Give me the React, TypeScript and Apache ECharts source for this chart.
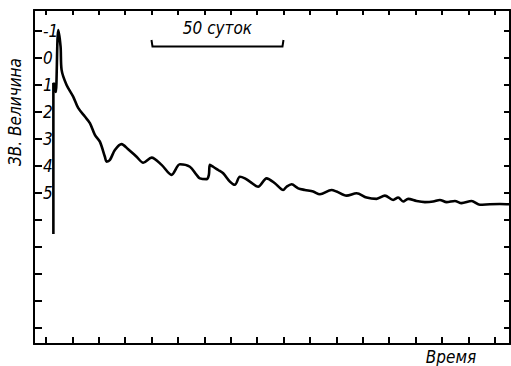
import React, { useEffect, useRef } from "react";
import * as echarts from "echarts";

// Days since outburst (arbitrary zero at first tick) and stellar magnitude
const days = [
  2.84, 2.84, 3.41, 3.79, 4.66, 5.57, 5.95, 7.84, 10.34, 12.23, 14.77, 16.67, 18.56,
  20.45, 22.35, 22.99, 24.24, 26.14, 28.67, 31.06, 34.36, 36.86, 40.04, 43.83, 47.61,
  50.76, 54.55, 57.08, 58.33, 60.87, 61.74, 62.12, 63.37, 65.27, 67.16, 69.7, 71.59,
  73.48, 75.38, 77.27, 80.42, 83.6, 86.74, 89.89, 91.17, 93.07, 95.57, 98.11, 101.25,
  103.79, 108.22, 110.11, 113.9, 117.69, 121.48, 125.27, 128.41, 131.55, 133.45, 135.34,
  137.23, 140.42, 143.56, 146.7, 149.24, 151.78, 154.92, 157.46, 161.25, 164.39, 168.18,
  171.97, 175.76,
];
const mags = [
  6.52, 0.93, 1.0, 1.26, -1.04, -0.42, 0.44, 1.0, 1.43, 1.85, 2.17, 2.41, 2.85,
  3.1, 3.66, 3.84, 3.78, 3.41, 3.19, 3.37, 3.66, 3.88, 3.69, 3.96, 4.33,
  3.94, 4.03, 4.33, 4.46, 4.49, 4.33, 3.96, 4.03, 4.15, 4.27, 4.58, 4.7,
  4.4, 4.46, 4.58, 4.77, 4.46, 4.64, 4.89, 4.77, 4.68, 4.83, 4.89, 4.95,
  5.05, 4.89, 4.95, 5.1, 5.01, 5.17, 5.22, 5.1, 5.26, 5.17, 5.32,
  5.22, 5.3, 5.34, 5.32, 5.26, 5.34, 5.3, 5.38, 5.3, 5.44, 5.42,
  5.41, 5.42,
];
const dayTicks = [0, 10, 20, 30, 40, 50, 60, 70, 80, 90, 100, 110, 120, 130, 140, 150, 160, 170];
const magTicks = [-1, 0, 1, 2, 3, 4, 5, 6, 7, 8, 9, 10];
const magLabels = [-1, 0, 1, 2, 3, 4, 5];
const scaleStart = 40;
const scaleEnd = 90;
const scaleText = "50 суток";
const xName = "Время";
const yName = "ЗВ. Величина";

const FONT = "'Liberation Sans Narrow', 'DejaVu Sans Condensed', 'Noto Sans', sans-serif";

export default function App() {
  const ref = useRef<HTMLDivElement>(null);
  useEffect(() => {
    if (!ref.current) return;
    const chart = echarts.init(ref.current, null, { renderer: "svg" });
    const axisLine = { show: true, onZero: false, lineStyle: { color: "#000", width: 2 } };
    const tickStyle = { color: "#000", width: 2 };
    const xBase = {
      type: "value" as const,
      min: -4.5,
      max: 175.8,
      axisLine,
      axisLabel: { show: false },
      splitLine: { show: false },
    };
    const yBase = {
      type: "value" as const,
      inverse: true,
      min: -1.78,
      max: 10.6,
      axisLine,
      splitLine: { show: false },
    };
    chart.setOption({
      animation: false,
      backgroundColor: "#fff",
      grid: { left: 34, right: 1, top: 10, bottom: 22 },
      xAxis: [
        {
          ...xBase,
          position: "bottom",
          axisTick: { show: true, inside: true, length: 7, customValues: dayTicks, lineStyle: tickStyle },
        },
        {
          ...xBase,
          position: "top",
          axisTick: { show: true, inside: true, length: 5, customValues: dayTicks, lineStyle: tickStyle },
        },
      ],
      yAxis: [
        {
          ...yBase,
          position: "left",
          axisTick: { show: true, inside: true, length: 8, customValues: magTicks, lineStyle: tickStyle },
          axisLabel: {
            show: true,
            inside: true,
            margin: 9,
            customValues: magLabels,
            formatter: (v: number) => String(v),
            color: "#000",
            fontSize: 17,
            fontStyle: "italic",
            fontFamily: FONT,
          },
        },
        {
          ...yBase,
          position: "right",
          axisTick: { show: true, inside: true, length: 6, customValues: magTicks, lineStyle: tickStyle },
          axisLabel: { show: false },
        },
      ],
      series: [
        {
          type: "line",
          xAxisIndex: 0,
          yAxisIndex: 0,
          data: days.map((d, i) => [d, mags[i]]),
          showSymbol: false,
          smooth: 0.3,
          lineStyle: { color: "#000", width: 2.6 },
        },
      ],
    });

    const x0 = chart.convertToPixel({ xAxisIndex: 0 }, scaleStart) as number;
    const x1 = chart.convertToPixel({ xAxisIndex: 0 }, scaleEnd) as number;
    chart.setOption({
      graphic: [
        {
          type: "polyline",
          shape: { points: [[x0, 40], [x0 + 1, 46.5], [x1 - 1, 46.5], [x1, 40]] },
          style: { stroke: "#000", lineWidth: 2, fill: "none" },
        },
        {
          type: "text",
          x: (x0 + x1) / 2,
          y: 28,
          style: {
            text: scaleText,
            fill: "#000",
            font: `italic 17px ${FONT}`,
            align: "center",
            verticalAlign: "middle",
          },
        },
        {
          type: "text",
          x: 451,
          y: 357,
          style: {
            text: xName,
            fill: "#000",
            font: `italic 17px ${FONT}`,
            align: "center",
            verticalAlign: "middle",
          },
        },
        {
          type: "text",
          x: 15,
          y: 112,
          rotation: Math.PI / 2,
          style: {
            text: yName,
            fill: "#000",
            font: `italic 17px ${FONT}`,
            align: "center",
            verticalAlign: "middle",
          },
        },
      ],
    });
    return () => chart.dispose();
  }, []);
  return <div ref={ref} style={{ width: 511, height: 366, position: "absolute", left: 0, top: 0 }} />;
}
